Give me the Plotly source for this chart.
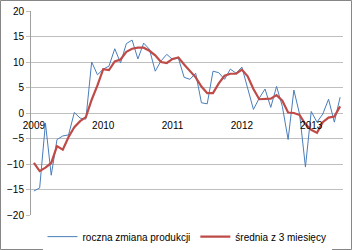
import plotly.graph_objects as go

roczna = [-15.3, -14.7, -2.0, -12.2, -5.2, -4.5, -4.3, 0.1, -1.0, -1.2,
          10.0, 7.5, 8.6, 9.2, 12.6, 9.8, 13.6, 14.3, 10.6, 13.7,
          12.5, 8.2, 10.2, 11.5, 10.5, 10.8, 7.0, 6.6, 7.8, 2.0,
          1.8, 8.2, 7.9, 6.6, 8.6, 7.8, 9.0, 5.0, 0.7, 2.9,
          4.7, 1.1, 5.2, 1.3, -5.2, 4.5, -0.3, -10.6, 0.3, -1.8,
          -0.2, 2.7, -1.8, 3.1]
srednia = [-9.8, -11.4, -10.7, -9.8, -6.5, -7.2, -4.7, -2.8, -1.6, -0.8,
           2.6, 5.4, 8.6, 8.4, 10.1, 10.5, 12.0, 12.6, 12.8, 12.8,
           12.2, 11.3, 10.0, 9.8, 10.6, 10.9, 9.5, 8.2, 7.0, 5.2,
           3.9, 3.9, 5.8, 7.3, 7.7, 7.7, 8.5, 7.2, 4.7, 2.7,
           2.7, 2.8, 3.5, 2.4, 0.1, 0.0, -0.4, -2.2, -3.3, -3.9,
           -1.8, -0.9, -0.7, 1.3]
x = list(range(len(roczna)))
year_pos = [0, 12, 24, 36, 48]
year_labels = ["2009", "2010", "2011", "2012", "2013"]
y_ticks = [-20, -15, -10, -5, 0, 5, 10, 15, 20]

font = "Liberation Sans"
fig = go.Figure()
fig.add_trace(go.Scatter(x=x, y=roczna, mode="lines", name="roczna zmiana produkcji",
                         line=dict(color="#4a7ebb", width=1)))
fig.add_trace(go.Scatter(x=x, y=srednia, mode="lines", name="średnia z 3 miesięcy",
                         line=dict(color="#be4b48", width=2.2)))

L, R, T, B = 31, 9, 11, 35
W, H = 352, 250
pw, ph = W - L - R, H - T - B
fig.update_layout(
    width=W, height=H,
    margin=dict(l=L, r=R, t=T, b=B, autoexpand=False),
    paper_bgcolor="white", plot_bgcolor="white",
    font=dict(family=font, size=10, color="#000"),
    showlegend=True,
    legend=dict(orientation="h", x=0.5, xanchor="center", y=-0.035, yanchor="top",
                font=dict(size=10), tracegroupgap=0),
    xaxis=dict(range=[-0.5, len(x) - 0.5], tickvals=year_pos, ticktext=year_labels,
               anchor="free", position=0.5, showgrid=False, showline=False,
               zeroline=False, ticks="outside", ticklen=3, tickcolor="rgba(0,0,0,0)",
               tickfont=dict(size=10)),
    yaxis=dict(range=[-20, 20], tickvals=y_ticks, showgrid=True, gridcolor="#bfbfbf",
               gridwidth=1, zeroline=False, showline=True, linecolor="#a0a0a0",
               ticks="outside", ticklen=4, tickcolor="#bfbfbf", tickfont=dict(size=10)),
    shapes=[dict(type="rect", xref="paper", yref="paper",
                 x0=(0.5 - L) / pw, x1=(W - 0.5 - L) / pw,
                 y0=(T + ph - (H - 0.5)) / ph, y1=(T + ph - 0.5) / ph,
                 line=dict(color="#868686", width=1))],
)
fig.write_html("out.html")
